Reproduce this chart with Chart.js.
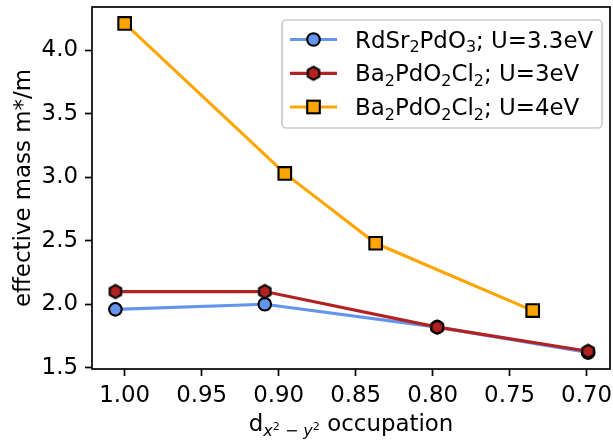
<!DOCTYPE html>
<html>
<head>
<meta charset="utf-8">
<script src="https://cdn.jsdelivr.net/npm/chart.js@4"></script>
<style>
  html, body { margin: 0; padding: 0; background: #fff; }
  canvas { display: block; }
</style>
</head>
<body>
<canvas id="chart" width="613" height="441"></canvas>
<script>
// d(x2-y2) occupation for each series
const rdsrX = [1.006, 0.909, 0.797, 0.699];
const baU3X = [1.006, 0.909, 0.797, 0.699];
const baU4X = [1.000, 0.896, 0.837, 0.735];

// effective mass m*/m
const rdsrY = [1.96, 2.00, 1.82, 1.62];
const baU3Y = [2.10, 2.10, 1.82, 1.63];
const baU4Y = [4.21, 3.03, 2.48, 1.95];

const xTicks = [1.00, 0.95, 0.90, 0.85, 0.80, 0.75, 0.70];
const yTicks = [1.5, 2.0, 2.5, 3.0, 3.5, 4.0];

// legend text split into [text, isSubscript] pieces
const legendRows = [
    [['RdSr', false], ['2', true], ['PdO', false], ['3', true], ['; U=3.3eV', false]],
    [['Ba', false], ['2', true], ['PdO', false], ['2', true], ['Cl', false], ['2', true], ['; U=3eV', false]],
    [['Ba', false], ['2', true], ['PdO', false], ['2', true], ['Cl', false], ['2', true], ['; U=4eV', false]]
];

const BLUE = '#6495ED';
const RED = '#B22222';
const ORANGE = '#FFA500';
const FONT = "'DejaVu Sans', sans-serif";
const FS = 22.9;      // main text size
const SUB = 16;       // subscript size
const SUP = 11.2;     // superscript inside subscript

function pts(xs, ys) {
    return xs.map((x, i) => ({ x: x, y: ys[i] }));
}

// hexagon marker (pointy top) as a small canvas usable as pointStyle
function makeHexagon(fill) {
    const c = document.createElement('canvas');
    c.width = 18; c.height = 18;
    const g = c.getContext('2d');
    g.beginPath();
    for (let k = 0; k < 6; k++) {
        const a = -Math.PI / 2 + k * Math.PI / 3;
        const px = 9 + 6.6 * Math.cos(a), py = 9 + 6.6 * Math.sin(a);
        if (k === 0) g.moveTo(px, py); else g.lineTo(px, py);
    }
    g.closePath();
    g.fillStyle = fill;
    g.fill();
    g.lineWidth = 2.1;
    g.strokeStyle = '#000';
    g.lineJoin = 'miter';
    g.stroke();
    return c;
}
const hexMarker = makeHexagon(RED);

function drawMarker(ctx, kind, x, y) {
    ctx.save();
    ctx.lineWidth = 2.1;
    ctx.strokeStyle = '#000';
    if (kind === 'circle') {
        ctx.fillStyle = BLUE;
        ctx.beginPath();
        ctx.arc(x, y, 6.3, 0, Math.PI * 2);
        ctx.fill();
        ctx.stroke();
    } else if (kind === 'hex') {
        ctx.drawImage(hexMarker, x - 9, y - 9);
    } else {
        ctx.fillStyle = ORANGE;
        ctx.fillRect(x - 6.3, y - 6.3, 12.6, 12.6);
        ctx.strokeRect(x - 6.3, y - 6.3, 12.6, 12.6);
    }
    ctx.restore();
}

// box around the plot area, drawn above the lines like matplotlib spines
const framePlugin = {
    id: 'frame',
    afterDatasetsDraw(chart) {
        const a = chart.chartArea;
        const ctx = chart.ctx;
        ctx.save();
        ctx.strokeStyle = '#000';
        ctx.lineWidth = 1.7;
        ctx.strokeRect(a.left, a.top, a.right - a.left, a.bottom - a.top);
        ctx.restore();
    }
};

// x-axis title with sub/superscripts
const xTitlePlugin = {
    id: 'xTitle',
    afterDraw(chart) {
        const ctx = chart.ctx;
        const a = chart.chartArea;
        const base = 431;
        const parts = [
            ['d', FS + 'px ' + FONT, 0],
            ['x', 'italic ' + SUB + 'px ' + FONT, 5],
            ['2', SUP + 'px ' + FONT, -1],
            [' \u2212 ', SUB + 'px ' + FONT, 5],
            ['y', 'italic ' + SUB + 'px ' + FONT, 5],
            ['2', SUP + 'px ' + FONT, -1],
            [' occupation', FS + 'px ' + FONT, 0]
        ];
        ctx.save();
        let total = 0;
        parts.forEach(p => { ctx.font = p[1]; total += ctx.measureText(p[0]).width; });
        let x = (a.left + a.right) / 2 - total / 2;
        ctx.fillStyle = '#000';
        ctx.textBaseline = 'alphabetic';
        ctx.textAlign = 'left';
        parts.forEach(p => {
            ctx.font = p[1];
            ctx.fillText(p[0], x, base + p[2]);
            x += ctx.measureText(p[0]).width;
        });
        ctx.restore();
    }
};

const legendPlugin = {
    id: 'richLegend',
    afterDraw(chart) {
        const ctx = chart.ctx;
        const box = { x: 282, y: 20, w: 320, h: 108 };
        const rowsY = [39.5, 73.3, 107];
        const colors = [BLUE, RED, ORANGE];
        const kinds = ['circle', 'hex', 'square'];
        ctx.save();
        ctx.beginPath();
        ctx.roundRect(box.x, box.y, box.w, box.h, 4);
        ctx.fillStyle = 'rgba(255,255,255,0.8)';
        ctx.fill();
        ctx.lineWidth = 1.7;
        ctx.strokeStyle = '#cccccc';
        ctx.stroke();
        legendRows.forEach((row, i) => {
            const y = rowsY[i];
            ctx.strokeStyle = colors[i];
            ctx.lineWidth = 3.15;
            ctx.beginPath();
            ctx.moveTo(290, y);
            ctx.lineTo(337, y);
            ctx.stroke();
            drawMarker(ctx, kinds[i], 313.5, y);
            let x = 355;
            ctx.fillStyle = '#000';
            ctx.textBaseline = 'alphabetic';
            row.forEach(seg => {
                ctx.font = (seg[1] ? SUB : FS) + 'px ' + FONT;
                ctx.fillText(seg[0], x, y + 8 + (seg[1] ? 4.5 : 0));
                x += ctx.measureText(seg[0]).width;
            });
        });
        ctx.restore();
    }
};

const lineDefaults = {
    borderWidth: 3.15,
    pointBorderColor: '#000',
    pointBorderWidth: 2.1,
    pointHoverRadius: 0,
    tension: 0,
    fill: false
};

const chart = new Chart(document.getElementById('chart'), {
    type: 'line',
    data: {
        datasets: [
            Object.assign({
                label: 'RdSr2PdO3; U=3.3eV',
                data: pts(rdsrX, rdsrY),
                borderColor: BLUE,
                pointBackgroundColor: BLUE,
                pointStyle: 'circle',
                pointRadius: 6.3,
                order: 3
            }, lineDefaults),
            Object.assign({
                label: 'Ba2PdO2Cl2; U=3eV',
                data: pts(baU3X, baU3Y),
                borderColor: RED,
                pointBackgroundColor: RED,
                pointStyle: hexMarker,
                pointRadius: 7,
                order: 2
            }, lineDefaults),
            Object.assign({
                label: 'Ba2PdO2Cl2; U=4eV',
                data: pts(baU4X, baU4Y),
                borderColor: ORANGE,
                pointBackgroundColor: ORANGE,
                pointStyle: 'rect',
                pointRadius: 8.9,
                order: 1
            }, lineDefaults)
        ]
    },
    options: {
        responsive: false,
        animation: false,
        devicePixelRatio: 1,
        layout: { autoPadding: false, padding: { top: 7, right: 3, left: 0, bottom: 0 } },
        plugins: {
            legend: { display: false },
            tooltip: { enabled: false }
        },
        scales: {
            x: {
                type: 'linear',
                reverse: true,
                min: 0.6848,
                max: 1.0212,
                afterFit(scale) {
                    scale.height = 72;
                    scale.paddingLeft = 0;
                    scale.paddingRight = 0;
                },
                afterBuildTicks(scale) { scale.ticks = xTicks.map(v => ({ value: v })); },
                border: { display: false },
                grid: {
                    drawOnChartArea: false,
                    drawTicks: true,
                    tickLength: 7,
                    tickWidth: 1.7,
                    tickColor: '#000'
                },
                ticks: {
                    color: '#000',
                    padding: 6,
                    maxRotation: 0,
                    autoSkip: false,
                    font: { family: FONT, size: FS },
                    callback: v => v.toFixed(2)
                }
            },
            y: {
                type: 'linear',
                min: 1.4905,
                max: 4.3395,
                afterFit(scale) {
                    scale.width = 92;
                    scale.paddingTop = 0;
                    scale.paddingBottom = 0;
                },
                afterBuildTicks(scale) { scale.ticks = yTicks.map(v => ({ value: v })); },
                border: { display: false },
                grid: {
                    drawOnChartArea: false,
                    drawTicks: true,
                    tickLength: 7,
                    tickWidth: 1.7,
                    tickColor: '#000'
                },
                ticks: {
                    color: '#000',
                    padding: 7,
                    autoSkip: false,
                    font: { family: FONT, size: FS },
                    callback: v => v.toFixed(1)
                },
                title: {
                    display: true,
                    text: 'effective mass m*/m',
                    color: '#000',
                    font: { family: FONT, size: FS },
                    padding: { top: 10, bottom: 0 }
                }
            }
        }
    },
    plugins: [framePlugin, xTitlePlugin, legendPlugin]
});
</script>
</body>
</html>
